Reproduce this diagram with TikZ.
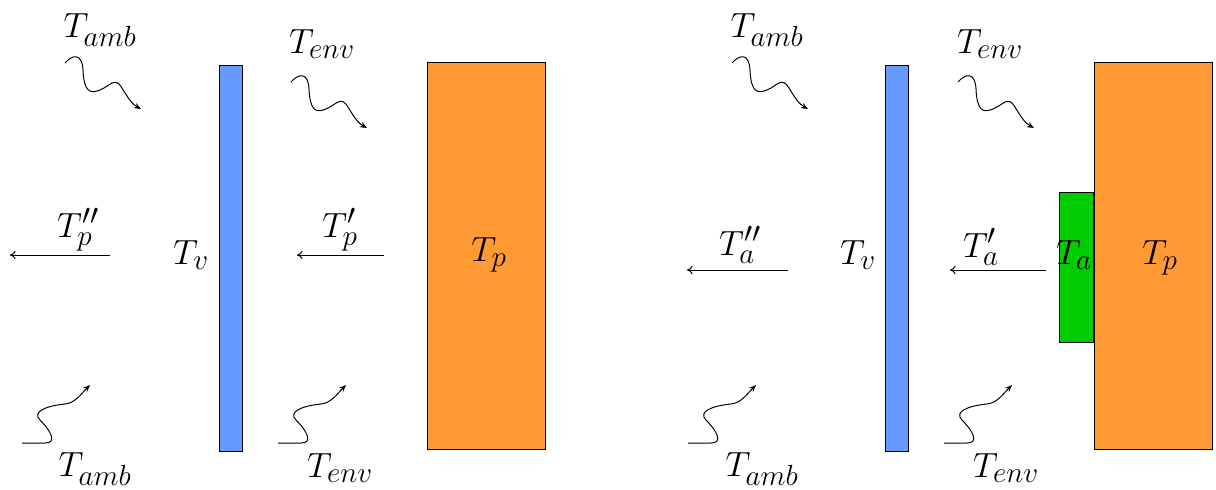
\documentclass[tikz,border=0pt]{standalone}
\usetikzlibrary{arrows.meta}
\definecolor{barblue}{HTML}{6699FF}
\definecolor{plorange}{HTML}{FF9933}
\definecolor{agreen}{HTML}{00CC00}
\tikzset{
  lbl/.style={font=\fontsize{28}{34}\selectfont, inner sep=0pt},
  wavy/.style={line width=0.7pt, -{Stealth[length=5pt,width=4pt]}},
  flow/.style={line width=0.7pt, -{To[length=4pt,width=6pt]}},
  blk/.style={draw=black, line width=0.7pt}
}
\begin{document}
\begin{tikzpicture}[x=0.025cm,y=-0.025cm]
\useasboundingbox (0,0) rectangle (1216,489);
% ---- rectangles
\foreach \dx in {0,666}{
  \draw[blk,fill=barblue] (219+\dx,65) rectangle (242+\dx,451);
}
\draw[blk,fill=plorange] (427,62) rectangle (545,449);
\draw[blk,fill=agreen] (1059,192) rectangle (1093,342);
\draw[blk,fill=plorange] (1094,62) rectangle (1212,449);
% ---- labels left
\node[lbl] (ambTL) at (100,30) {$T_{amb}$};
\node[lbl] (envTL) at (322,44) {$T_{env}$};
\node[lbl] (ppL) at (78,230) {$T_p''$};
\node[lbl] (pL) at (340,230) {$T_p'$};
\node[lbl] (vL) at (191,255) {$T_v$};
\node[lbl] (tpL) at (489,255) {$T_p$};
\node[lbl] (ambBL) at (95,469) {$T_{amb}$};
\node[lbl] (envBL) at (340,468) {$T_{env}$};
% ---- labels right
\node[lbl] (ambTR) at (767,30) {$T_{amb}$};
\node[lbl] (envTR) at (990,44) {$T_{env}$};
\node[lbl] (aaR) at (740,245) {$T_a''$};
\node[lbl] (aR) at (981,247) {$T_a'$};
\node[lbl] (vR) at (858,255) {$T_v$};
\node[lbl] (taR) at (1074,255) {$T_a$};
\node[lbl] (tpR) at (1160,258) {$T_p$};
\node[lbl] (ambBR) at (762,469) {$T_{amb}$};
\node[lbl] (envBR) at (1006,468) {$T_{env}$};
% ---- straight arrows
\coordinate (a1s) at (110,255); \coordinate (a1e) at (10,255);
\coordinate (a2s) at (384,255); \coordinate (a2e) at (297,255);
\coordinate (a3s) at (788,270); \coordinate (a3e) at (687,270);
\coordinate (a4s) at (1046,270); \coordinate (a4e) at (950,270);
\draw[flow] (a1s) -- (a1e);
\draw[flow] (a2s) -- (a2e);
\draw[flow] (a3s) -- (a3e);
\draw[flow] (a4s) -- (a4e);
% ---- wavy arrows (top)
\foreach \sx/\sy in {65/63, 291/82, 732/63, 958/82}{
  \draw[wavy, shift={(\sx,\sy)}] (0,0) .. controls (7,-8) and (17,-11) .. (18,7)
     .. controls (19,29) and (25,31) .. (35,27)
     .. controls (45,23) and (50,13) .. (57,25)
     .. controls (63,35) and (67,41) .. (76,46);
}
% ---- wavy arrows (bottom)
\foreach \sx in {22, 278, 688, 944}{
  \draw[wavy, shift={(\sx,443)}] (0,0) -- (23,0)
     .. controls (36,0) and (28,-13) .. (18,-23)
     .. controls (10,-31) and (23,-37) .. (43,-39)
     .. controls (53,-40) and (58,-48) .. (68,-58);
}
\end{tikzpicture}
\end{document}
